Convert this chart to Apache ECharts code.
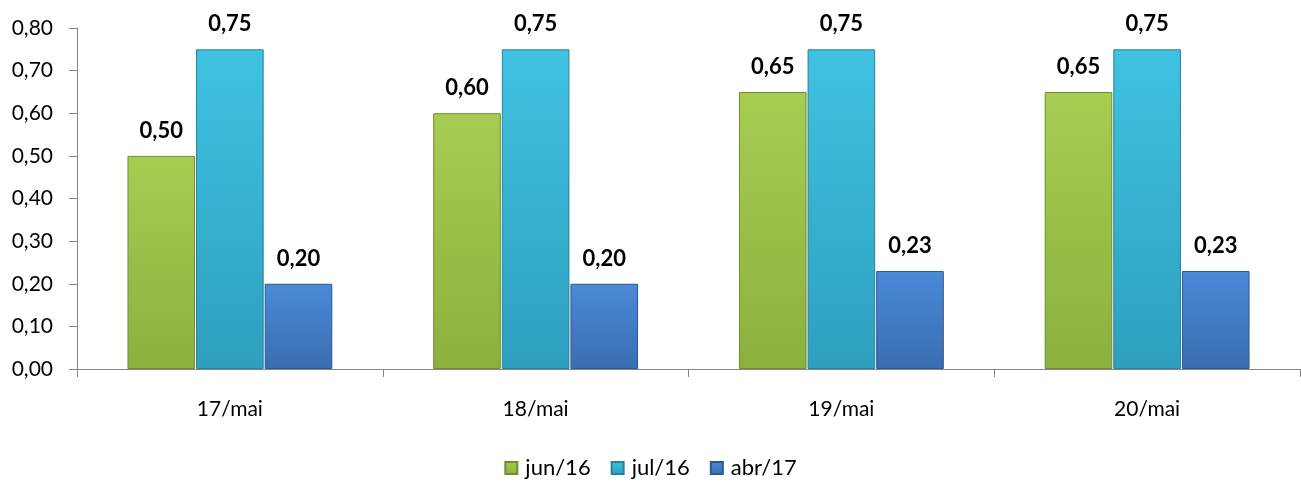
<!DOCTYPE html>
<html><head><meta charset="utf-8">
<script src="https://cdn.jsdelivr.net/npm/echarts@6/dist/echarts.min.js"></script>
<style>html,body{margin:0;padding:0;background:#fff}#c{width:1301px;height:484px}</style>
</head><body><div id="c"></div>
<script>
const categories = ['17/mai', '18/mai', '19/mai', '20/mai'];
const seriesNames = ['jun/16', 'jul/16', 'abr/17'];
const jun16 = [0.50, 0.60, 0.65, 0.65];
const jul16 = [0.75, 0.75, 0.75, 0.75];
const abr17 = [0.20, 0.20, 0.23, 0.23];
const tops = ['#a6cd52', '#40c2e2', '#4a8ad8'];
const bottoms = ['#8cb03e', '#2e9fbf', '#3a6db0'];
const borders = ['#6f8c2e', '#25819c', '#2c5790'];

const fmt = v => v.toFixed(2).replace('.', ',');
const font = 'Lato, "Open Sans", sans-serif';

function mkSeries(name, data, i) {
  return {
    name, type: 'bar', data,
    barGap: '1.5%', barCategoryGap: '33%',
    itemStyle: {
      color: {type: 'linear', x: 0, y: 0, x2: 0, y2: 1, colorStops: [
        {offset: 0, color: tops[i]}, {offset: 1, color: bottoms[i]}]},
      borderColor: borders[i], borderWidth: 1
    },
    label: {show: true, position: 'top', distance: 14, formatter: p => fmt(p.value),
      fontFamily: font, fontWeight: 'bold', fontSize: 22, color: '#000'}
  };
}

const chart = echarts.init(document.getElementById('c'));
chart.setOption({
  animation: false,
  color: tops,
  grid: {left: 77, right: 1, top: 28, bottom: 115, containLabel: false},
  legend: {bottom: 0, left: 'center', itemWidth: 12, itemHeight: 12, itemGap: 20,
    icon: 'rect', textStyle: {fontFamily: font, fontSize: 22, color: '#000', padding: [0, 0, 0, 3]},
    data: seriesNames},
  xAxis: {type: 'category', data: categories,
    axisLine: {lineStyle: {color: '#868686', width: 1}},
    axisTick: {show: true, length: 8, lineStyle: {color: '#868686'}},
    axisLabel: {fontFamily: font, fontSize: 21, color: '#000', margin: 30}},
  yAxis: {type: 'value', min: 0, max: 0.8, interval: 0.1,
    axisLine: {show: true, lineStyle: {color: '#868686'}},
    axisTick: {show: true, length: 8, lineStyle: {color: '#868686'}},
    splitLine: {show: false},
    axisLabel: {fontFamily: font, fontSize: 21, color: '#000', margin: 24, formatter: v => fmt(v)}},
  series: [mkSeries(seriesNames[0], jun16, 0), mkSeries(seriesNames[1], jul16, 1), mkSeries(seriesNames[2], abr17, 2)]
});
</script></body></html>
